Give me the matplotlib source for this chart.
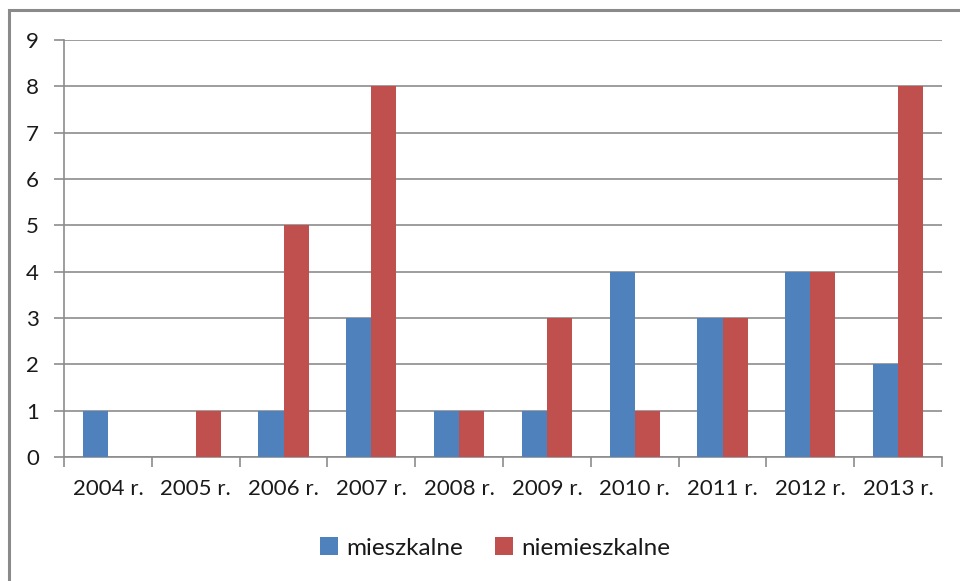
import matplotlib
matplotlib.use("Agg")
import matplotlib.pyplot as plt
from matplotlib.patches import Rectangle
import numpy as np

plt.rcParams['font.family'] = ['Lato', 'DejaVu Sans']

categories = ["2004 r.", "2005 r.", "2006 r.", "2007 r.", "2008 r.",
              "2009 r.", "2010 r.", "2011 r.", "2012 r.", "2013 r."]
mieszkalne = [1, 0, 1, 3, 1, 1, 4, 3, 4, 2]
niemieszkalne = [0, 1, 5, 8, 1, 3, 1, 3, 4, 8]
series_names = ["mieszkalne", "niemieszkalne"]
colors = ["#4F81BD", "#C0504D"]

W, H = 960, 581
fig = plt.figure(figsize=(W / 100, H / 100), dpi=100)
ax = fig.add_axes([64 / W, 1 - 457 / H, (942 - 64) / W, (457 - 40) / H])

x = np.arange(len(categories))
bw = 0.285
ax.bar(x - bw / 2, mieszkalne, width=bw, color=colors[0], label=series_names[0], zorder=3)
ax.bar(x + bw / 2, niemieszkalne, width=bw, color=colors[1], label=series_names[1], zorder=3)

ax.set_xlim(-0.5, len(categories) - 0.5)
ax.set_ylim(0, 9)
ax.set_yticks(range(0, 10))
ax.yaxis.grid(True, color="#8c8c8c", linewidth=1.2, zorder=0)
ax.set_axisbelow(True)

# x ticks at boundaries, labels centered
ax.set_xticks(np.arange(-0.5, len(categories) + 0.5, 1))
ax.set_xticklabels([])
ax.set_xticks(x, minor=True)
ax.set_xticklabels(categories, minor=True)
ax.tick_params(axis="x", which="major", length=7, color="#8c8c8c", width=1.2, direction="out")
ax.tick_params(axis="x", which="minor", length=0, pad=16, labelsize=16, labelcolor="#1a1a1a")
ax.tick_params(axis="y", length=7, color="#8c8c8c", width=1.2, pad=11, labelsize=16, labelcolor="#1a1a1a")

for s in ["top", "right"]:
    ax.spines[s].set_visible(False)
for s in ["left", "bottom"]:
    ax.spines[s].set_color("#8c8c8c")
    ax.spines[s].set_linewidth(1.2)

leg = fig.legend(loc="center", bbox_to_anchor=(495 / W, 1 - 548 / H), ncol=2,
                 frameon=False, fontsize=17.5, handlelength=0.75, handleheight=0.75,
                 handletextpad=0.35, columnspacing=1.3)
for t in leg.get_texts():
    t.set_color("#1a1a1a")

# outer chart frame (cropped on right and bottom)
frame = Rectangle((9 / W, -0.1), 1.2, 1 - 10 / H + 0.1, transform=fig.transFigure,
                  fill=False, edgecolor="#8a8a8a", linewidth=2.2)
fig.patches.append(frame)

fig.savefig("out.png", dpi=100)
